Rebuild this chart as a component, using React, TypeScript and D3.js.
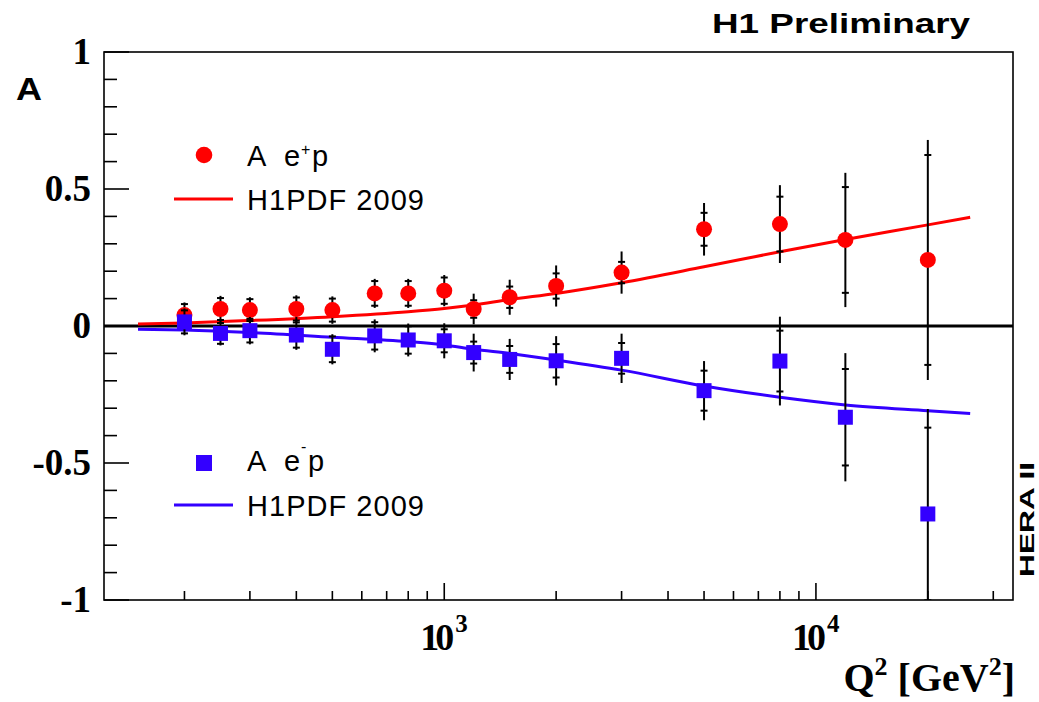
import * as d3 from "d3";
import { useEffect, useRef } from "react";

const WIDTH = 1039;
const HEIGHT = 702;

// Q^2 bins of the measured asymmetries
const q2Bins = [200, 250, 300, 400, 500, 650, 800, 1000, 1200, 1500, 2000, 3000, 5000, 8000, 12000, 20000];

// A for e+p
const ePlusA = [0.04, 0.062, 0.058, 0.062, 0.058, 0.119, 0.119, 0.129, 0.062, 0.105, 0.146, 0.195, 0.353, 0.372, 0.314, 0.241];
const ePlusTot = [0.046, 0.048, 0.047, 0.05, 0.05, 0.053, 0.053, 0.057, 0.056, 0.064, 0.075, 0.077, 0.096, 0.142, 0.245, 0.438];
const ePlusStat = [0.04, 0.04, 0.04, 0.042, 0.042, 0.045, 0.045, 0.048, 0.032, 0.039, 0.046, 0.039, 0.06, 0.1, 0.193, 0.383];

// A for e-p
const eMinusA = [0.015, -0.027, -0.017, -0.033, -0.085, -0.036, -0.051, -0.054, -0.097, -0.122, -0.127, -0.118, -0.236, -0.128, -0.333, -0.686];
const eMinusTot = [0.049, 0.044, 0.05, 0.054, 0.055, 0.06, 0.06, 0.064, 0.069, 0.075, 0.09, 0.09, 0.108, 0.162, 0.234, 0.383];
const eMinusStat = [0.042, 0.038, 0.043, 0.046, 0.047, 0.05, 0.05, 0.042, 0.04, 0.049, 0.061, 0.056, 0.073, 0.111, 0.176, 0.315];

// H1PDF 2009 predictions
const theoryQ2 = [150, 200, 300, 500, 800, 1000, 1200, 1500, 2000, 3000, 5000, 8000, 12000, 20000, 26000];
const theoryPlus = [0.007, 0.011, 0.02, 0.034, 0.052, 0.064, 0.077, 0.097, 0.119, 0.158, 0.216, 0.271, 0.316, 0.369, 0.397];
const theoryMinus = [-0.012, -0.015, -0.024, -0.041, -0.057, -0.069, -0.085, -0.1, -0.124, -0.161, -0.219, -0.26, -0.288, -0.309, -0.319];

const yTickValues = [-1, -0.5, 0, 0.5, 1];
const yTickLabels = ["-1", "-0.5", "0", "0.5", "1"];
const xTickValues = [1000, 10000];
const xTickExponents = ["3", "4"];

const RED = "#ff0000";
const BLUE = "#3300ff";
const SERIF = "'Liberation Serif', 'Times New Roman', serif";
const SANS = "'Liberation Sans', Arial, Helvetica, sans-serif";

export default function App() {
    const svgRef = useRef<SVGSVGElement | null>(null);

    useEffect(() => {
        if (!svgRef.current) return;
        const svg = d3.select(svgRef.current);
        svg.selectAll("*").remove();

        const margin = { top: 52, right: 26, bottom: 102, left: 104 };
        const x = d3.scaleLog().domain([121.5, 33900]).range([margin.left, WIDTH - margin.right]);
        const y = d3.scaleLinear().domain([-1, 1]).range([HEIGHT - margin.bottom, margin.top]);
        const [x0, x1] = x.range();
        const [y0, y1] = y.range();

        svg.append("defs").append("clipPath").attr("id", "frame-clip")
            .append("rect").attr("x", x0).attr("y", y1).attr("width", x1 - x0).attr("height", y0 - y1);

        // frame
        svg.append("rect").attr("x", x0).attr("y", y1).attr("width", x1 - x0).attr("height", y0 - y1)
            .attr("fill", "none").attr("stroke", "#000").attr("stroke-width", 1.6);

        // y ticks, every 0.1, long ones every 0.5
        const yTicks = d3.range(-10, 11).map((i) => i / 10);
        svg.append("g").selectAll("line").data(yTicks).enter().append("line")
            .attr("x1", x0).attr("x2", (d) => x0 + (Math.abs(d * 2 - Math.round(d * 2)) < 1e-6 ? 25 : 13))
            .attr("y1", (d) => y(d)).attr("y2", (d) => y(d))
            .attr("stroke", "#000").attr("stroke-width", 1.6);
        svg.append("g").selectAll("text").data(yTickValues).enter().append("text")
            .attr("x", x0 - 13).attr("y", (d) => y(d) + 12)
            .attr("text-anchor", "end").attr("font-family", SERIF).attr("font-weight", "bold").attr("font-size", 37)
            .text((_, i) => yTickLabels[i]);

        // x ticks
        const xTicks = x.ticks();
        svg.append("g").selectAll("line").data(xTicks).enter().append("line")
            .attr("x1", (d) => x(d)).attr("x2", (d) => x(d))
            .attr("y1", y0).attr("y2", (d) => y0 - (Math.abs(Math.log10(d) - Math.round(Math.log10(d))) < 1e-6 ? 17 : 9))
            .attr("stroke", "#000").attr("stroke-width", 1.6);
        const xl = svg.append("g").selectAll("g").data(xTickValues).enter().append("g")
            .attr("transform", (d) => `translate(${x(d)},0)`);
        xl.append("text").attr("x", -24).attr("y", 650)
            .attr("font-family", SERIF).attr("font-weight", "bold").attr("font-size", 38).attr("textLength", 34)
            .text("10");
        xl.append("text").attr("x", 11).attr("y", 632)
            .attr("font-family", SERIF).attr("font-weight", "bold").attr("font-size", 25)
            .text((_, i) => xTickExponents[i]);

        // zero line
        svg.append("line").attr("x1", x0).attr("x2", x1).attr("y1", y(0)).attr("y2", y(0))
            .attr("stroke", "#000").attr("stroke-width", 3);

        const plot = svg.append("g").attr("clip-path", "url(#frame-clip)");
        const line = d3.line<number>().x((_, i) => x(theoryQ2[i])).y((d) => y(d)).curve(d3.curveMonotoneX);
        plot.append("path").attr("d", line(theoryPlus)).attr("fill", "none").attr("stroke", RED).attr("stroke-width", 3);
        plot.append("path").attr("d", line(theoryMinus)).attr("fill", "none").attr("stroke", BLUE).attr("stroke-width", 3);

        const drawSeries = (vals: number[], tot: number[], stat: number[], color: string, square: boolean) => {
            const g = plot.append("g");
            const pts = q2Bins.map((q, i) => ({ q, v: vals[i], t: tot[i], s: stat[i] }));
            g.selectAll("line.err").data(pts).enter().append("line")
                .attr("x1", (d) => x(d.q)).attr("x2", (d) => x(d.q))
                .attr("y1", (d) => y(d.v + d.t)).attr("y2", (d) => y(d.v - d.t))
                .attr("stroke", "#000").attr("stroke-width", 2);
            [1, -1].forEach((sgn) => {
                g.selectAll(`line.stat${sgn}`).data(pts).enter().append("line")
                    .attr("x1", (d) => x(d.q) - 3.5).attr("x2", (d) => x(d.q) + 3.5)
                    .attr("y1", (d) => y(d.v + sgn * d.s)).attr("y2", (d) => y(d.v + sgn * d.s))
                    .attr("stroke", "#000").attr("stroke-width", 2);
            });
            if (square) {
                g.selectAll("rect").data(pts).enter().append("rect")
                    .attr("x", (d) => x(d.q) - 7.5).attr("y", (d) => y(d.v) - 7.5)
                    .attr("width", 15).attr("height", 15).attr("fill", color);
            } else {
                g.selectAll("circle").data(pts).enter().append("circle")
                    .attr("cx", (d) => x(d.q)).attr("cy", (d) => y(d.v)).attr("r", 8).attr("fill", color);
            }
        };
        drawSeries(ePlusA, ePlusTot, ePlusStat, RED, false);
        drawSeries(eMinusA, eMinusTot, eMinusStat, BLUE, true);

        // legends
        const legend = svg.append("g").attr("font-family", SANS).attr("font-size", 29);
        legend.append("circle").attr("cx", 204).attr("cy", 155).attr("r", 8.3).attr("fill", RED);
        const t1 = legend.append("text").attr("y", 166);
        t1.append("tspan").attr("x", 247).text("A");
        t1.append("tspan").attr("x", 284).text("e");
        t1.append("tspan").attr("x", 301).attr("y", 155).attr("font-size", 16).text("+");
        t1.append("tspan").attr("x", 312).attr("y", 166).text("p");
        legend.append("line").attr("x1", 174).attr("x2", 233).attr("y1", 199).attr("y2", 199).attr("stroke", RED).attr("stroke-width", 3);
        legend.append("text").attr("x", 247).attr("y", 210).attr("textLength", 177).text("H1PDF 2009");

        legend.append("rect").attr("x", 196).attr("y", 455).attr("width", 16).attr("height", 16).attr("fill", BLUE);
        const t2 = legend.append("text").attr("y", 471);
        t2.append("tspan").attr("x", 247).text("A");
        t2.append("tspan").attr("x", 284).text("e");
        t2.append("tspan").attr("x", 301).attr("y", 452).attr("font-size", 16).text("-");
        t2.append("tspan").attr("x", 308).attr("y", 471).text("p");
        legend.append("line").attr("x1", 174).attr("x2", 233).attr("y1", 505).attr("y2", 505).attr("stroke", BLUE).attr("stroke-width", 3);
        legend.append("text").attr("x", 247).attr("y", 516).attr("textLength", 177).text("H1PDF 2009");

        // titles
        svg.append("text").attr("x", 712).attr("y", 33).attr("font-family", SANS).attr("font-weight", "bold")
            .attr("font-size", 28).attr("textLength", 258).attr("lengthAdjust", "spacingAndGlyphs").text("H1 Preliminary");
        svg.append("text").attr("x", 16).attr("y", 100).attr("font-family", SANS).attr("font-weight", "bold")
            .attr("font-size", 31).attr("textLength", 26).attr("lengthAdjust", "spacingAndGlyphs").text("A");
        svg.append("text").attr("transform", "translate(1034,577) rotate(-90)").attr("font-family", SANS).attr("font-weight", "bold")
            .attr("font-size", 21).attr("textLength", 115).attr("lengthAdjust", "spacingAndGlyphs").text("HERA II");

        const xt = svg.append("text").attr("x", 1015).attr("y", 691).attr("text-anchor", "end")
            .attr("font-family", SERIF).attr("font-weight", "bold").attr("font-size", 40);
        xt.append("tspan").text("Q");
        xt.append("tspan").attr("dy", -16).attr("font-size", 26).text("2");
        xt.append("tspan").attr("dy", 16).text(" [GeV");
        xt.append("tspan").attr("dy", -16).attr("font-size", 26).text("2");
        xt.append("tspan").attr("dy", 16).text("]");

        return () => {
            svg.selectAll("*").remove();
        };
    }, []);

    return (
        <svg
            ref={svgRef}
            width={WIDTH}
            height={HEIGHT}
            style={{ position: "absolute", left: 0, top: 0, background: "#fff" }}
        />
    );
}
